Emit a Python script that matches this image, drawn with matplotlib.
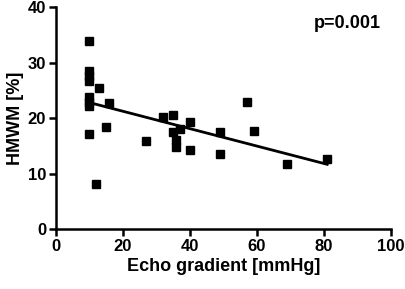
import numpy as np
import matplotlib.pyplot as plt

plt.rcParams['font.family'] = 'Liberation Sans'
plt.rcParams['font.weight'] = 'bold'

# data
echo_gradient = [10, 10, 10, 10, 13, 10, 10, 10, 16, 10, 15, 12, 27, 32, 35, 35, 37,
                 36, 36, 40, 40, 49, 49, 57, 59, 69, 81]
hmwm = [33.9, 28.5, 27.6, 26.7, 25.4, 23.8, 22.9, 22.2, 22.7, 17.1, 18.3, 8.1, 15.9,
        20.1, 20.5, 17.4, 18.1, 16.0, 14.8, 19.3, 14.2, 17.4, 13.5, 22.9, 17.7, 11.7, 12.7]
x_ticks = [0, 20, 40, 60, 80, 100]
y_ticks = [0, 10, 20, 30, 40]

x = np.array(echo_gradient)
y = np.array(hmwm)
slope, intercept = np.polyfit(x, y, 1)
xl = np.array([11, x.max()])

fig = plt.figure(figsize=(4.05, 2.89), dpi=100)
ax = fig.add_axes([0.138, 0.2076, 0.827, 0.768])

ax.plot(x, y, 's', color='black', markersize=6, clip_on=False)
ax.plot(xl, slope * xl + intercept, color='black', linewidth=2)

ax.set_xlim(0, 100)
ax.set_ylim(0, 40)
ax.set_xticks(x_ticks)
ax.set_yticks(y_ticks)
ax.spines['top'].set_visible(False)
ax.spines['right'].set_visible(False)
ax.spines['left'].set_linewidth(1.8)
ax.spines['bottom'].set_linewidth(1.8)
ax.tick_params(width=1.8, length=5, labelsize=12, pad=2)

ax.set_xlabel('Echo gradient [mmHg]', fontsize=13, fontweight='bold', labelpad=3)
ax.set_ylabel('HMWM [%]', fontsize=13, fontweight='bold', labelpad=3)
ax.text(77, 37, 'p=0.001', fontsize=13, fontweight='bold', va='center')

fig.savefig('out.png', dpi=100)
